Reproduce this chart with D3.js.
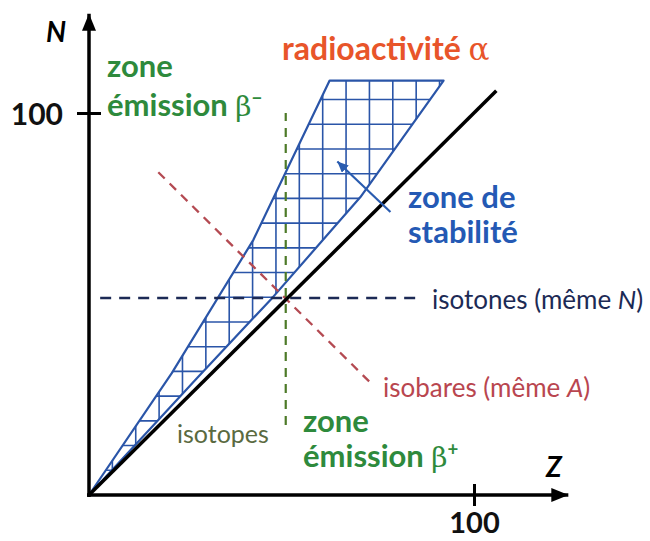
<!DOCTYPE html>
<html>
<head>
<meta charset="utf-8">
<script src="https://cdn.jsdelivr.net/npm/d3@7"></script>
<style>
  body { margin: 0; background: #fff; }
  text { font-family: Lato, "Open Sans", sans-serif; }
</style>
</head>
<body>
<div id="chart"></div>
<script>
// Axis ticks and extents (Z horizontal, N vertical)
const zTicks = [100];
const nTicks = [100];
const zAxisEnd = 124.5;
const nAxisEnd = 126;

// N = Z line
const diagonal = [[0, 0], [105.8, 105.8]];

// Stability zone outline, [Z, N]
const zoneLeft = [[0, 0], [21.5, 31.9], [42.7, 66.8], [62.5, 108.5]];
const zoneRight = [[0, 0], [27.6, 30.1], [47.6, 51.6], [70.5, 78.0], [92.1, 108.5]];
const hatchStepZ = 6.07;
const hatchStepN = 6.47;

// Isotopes (same Z), isotones (same N), isobars (same A)
const isotopeZ = 51.1;
const isotopeN = [18.3, 100];
const isotoneN = 51.6;
const isotoneZ = [2.9, 85.3];
const isobarA = 102.5;
const isobarZ = [18, 73];

// Arrow pointing into the zone
const stabArrow = [[78.3, 74.1], [64.5, 87.3]];

const width = 650;
const height = 541;

const svg = d3.select('#chart').append('svg')
  .attr('width', width)
  .attr('height', height);

const x = d3.scaleLinear().domain([0, 100]).range([89, 474]);
const y = d3.scaleLinear().domain([0, 100]).range([495, 113]);

const defs = svg.append('defs');

function arrowMarker(id, color, len, wid) {
  defs.append('marker')
    .attr('id', id)
    .attr('markerUnits', 'userSpaceOnUse')
    .attr('viewBox', `0 0 ${len} ${wid}`)
    .attr('refX', len)
    .attr('refY', wid / 2)
    .attr('markerWidth', len)
    .attr('markerHeight', wid)
    .attr('orient', 'auto')
    .append('path')
    .attr('d', `M0,0L${len},${wid / 2}L0,${wid}Z`)
    .attr('fill', color);
}
arrowMarker('axisArrow', '#000', 17, 14);
arrowMarker('blueArrow', '#2a5cb0', 11, 10);

// Clip for the hatching
const zonePts = zoneLeft.concat([zoneRight[zoneRight.length - 1]])
  .concat(zoneRight.slice(0, -1).reverse());
const zoneLine = d3.line().x(d => x(d[0])).y(d => y(d[1]));

defs.append('clipPath').attr('id', 'zoneClip')
  .append('path')
  .attr('d', zoneLine(zonePts) + 'Z');

const hatch = svg.append('g').attr('clip-path', 'url(#zoneClip)')
  .attr('stroke', '#2a55a8')
  .attr('stroke-width', 1.6);

hatch.selectAll('.vh')
  .data(d3.range(1, 17).map(k => k * hatchStepZ))
  .enter().append('line')
  .attr('x1', d => x(d)).attr('x2', d => x(d))
  .attr('y1', y(0)).attr('y2', y(110));

hatch.selectAll('.hh')
  .data(d3.range(1, 18).map(k => k * hatchStepN))
  .enter().append('line')
  .attr('y1', d => y(d)).attr('y2', d => y(d))
  .attr('x1', x(0)).attr('x2', x(100));

svg.append('path')
  .attr('d', zoneLine(zonePts) + 'Z')
  .attr('fill', 'none')
  .attr('stroke', '#2a55a8')
  .attr('stroke-width', 2.2)
  .attr('stroke-linejoin', 'round');

// Dashed guide lines
svg.append('line')
  .attr('x1', x(isotoneZ[0])).attr('x2', x(isotoneZ[1]))
  .attr('y1', y(isotoneN)).attr('y2', y(isotoneN))
  .attr('stroke', '#1c2a55')
  .attr('stroke-width', 2.5)
  .attr('stroke-dasharray', '11,8');

svg.append('line')
  .attr('x1', x(isobarZ[0])).attr('y1', y(isobarA - isobarZ[0]))
  .attr('x2', x(isobarZ[1])).attr('y2', y(isobarA - isobarZ[1]))
  .attr('stroke', '#b44a52')
  .attr('stroke-width', 2.3)
  .attr('stroke-dasharray', '9,7');

svg.append('line')
  .attr('x1', x(isotopeZ)).attr('x2', x(isotopeZ))
  .attr('y1', y(isotopeN[0])).attr('y2', y(isotopeN[1]))
  .attr('stroke', '#4d7a28')
  .attr('stroke-width', 2.2)
  .attr('stroke-dasharray', '9,7');

// N = Z line
svg.append('line')
  .attr('x1', x(diagonal[0][0])).attr('y1', y(diagonal[0][1]))
  .attr('x2', x(diagonal[1][0])).attr('y2', y(diagonal[1][1]))
  .attr('stroke', '#000')
  .attr('stroke-width', 3.5);

// Arrow into the zone
svg.append('line')
  .attr('x1', x(stabArrow[0][0])).attr('y1', y(stabArrow[0][1]))
  .attr('x2', x(stabArrow[1][0])).attr('y2', y(stabArrow[1][1]))
  .attr('stroke', '#2a5cb0')
  .attr('stroke-width', 2.2)
  .attr('marker-end', 'url(#blueArrow)');

// Axes
svg.append('line')
  .attr('x1', x(0) - 2).attr('x2', x(zAxisEnd))
  .attr('y1', y(0)).attr('y2', y(0))
  .attr('stroke', '#000').attr('stroke-width', 3.5)
  .attr('marker-end', 'url(#axisArrow)');

svg.append('line')
  .attr('x1', x(0)).attr('x2', x(0))
  .attr('y1', y(0) + 2).attr('y2', y(nAxisEnd))
  .attr('stroke', '#000').attr('stroke-width', 3.5)
  .attr('marker-end', 'url(#axisArrow)');

const xAxis = svg.append('g')
  .attr('transform', `translate(0,${y(0)})`)
  .call(d3.axisBottom(x).tickValues(zTicks).tickSize(11).tickFormat(d3.format('d')));
xAxis.select('.domain').remove();
xAxis.selectAll('.tick line').attr('y1', -11).attr('stroke-width', 3).attr('stroke', '#000');
xAxis.selectAll('.tick text')
  .attr('y', 38).attr('dy', 0)
  .attr('fill', '#111')
  .style('font-size', '29px').style('font-weight', 'bold')
  .style('font-family', 'Lato, sans-serif');

const yAxis = svg.append('g')
  .attr('transform', `translate(${x(0)},0)`)
  .call(d3.axisLeft(y).tickValues(nTicks).tickSize(12).tickFormat(d3.format('d')));
yAxis.select('.domain').remove();
yAxis.selectAll('.tick line').attr('x1', 12).attr('stroke-width', 3).attr('stroke', '#000');
yAxis.selectAll('.tick text')
  .attr('x', -26).attr('dy', '0.38em')
  .attr('fill', '#111')
  .style('font-size', '30px').style('font-weight', 'bold')
  .style('font-family', 'Lato, sans-serif');

// Axis names
svg.append('text').attr('x', 46).attr('y', 42)
  .style('font-size', '28px').style('font-weight', 'bold').style('font-style', 'italic')
  .text('N');
svg.append('text').attr('x', 546).attr('y', 477)
  .style('font-size', '28px').style('font-weight', 'bold').style('font-style', 'italic')
  .text('Z');

// Labels
const green = '#2e8a3c';

function label(px, py, parts, size, color, weight) {
  const t = svg.append('text').attr('x', px).attr('y', py)
    .attr('fill', color)
    .style('font-size', size + 'px')
    .style('font-weight', weight);
  parts.forEach(p => {
    const s = t.append('tspan').text(p.t);
    if (p.serif) s.style('font-family', '"DejaVu Serif", serif').style('font-weight', 'normal');
    if (p.italic) s.style('font-style', 'italic');
    if (p.sup) s.attr('baseline-shift', 'super').style('font-size', (size * 0.6) + 'px');
    if (p.size) s.style('font-size', p.size + 'px');
  });
  return t;
}

label(107, 77, [{ t: 'zone' }], 31, green, 'bold');
label(107, 116, [{ t: 'émission ' }, { t: 'β', serif: true, size: 28 }, { t: '−', sup: true }], 31, green, 'bold');

label(282, 60, [{ t: 'radioactivité ' }, { t: 'α', serif: true, size: 31 }], 32, '#e8552a', 'bold');

label(408, 208, [{ t: 'zone de' }], 31, '#2459b4', 'bold');
label(408, 243, [{ t: 'stabilité' }], 31, '#2459b4', 'bold');

label(432, 309, [{ t: 'isotones (même ' }, { t: 'N', italic: true }, { t: ')' }], 26, '#1c2a55', 'normal');
label(383, 397, [{ t: 'isobares (même ' }, { t: 'A', italic: true }, { t: ')' }], 26, '#b9464f', 'normal');
label(177, 443, [{ t: 'isotopes' }], 25, '#5a6a40', 'normal');

label(303, 432, [{ t: 'zone' }], 31, green, 'bold');
label(303, 467, [{ t: 'émission ' }, { t: 'β', serif: true, size: 28 }, { t: '+', sup: true }], 31, green, 'bold');
</script>
</body>
</html>
